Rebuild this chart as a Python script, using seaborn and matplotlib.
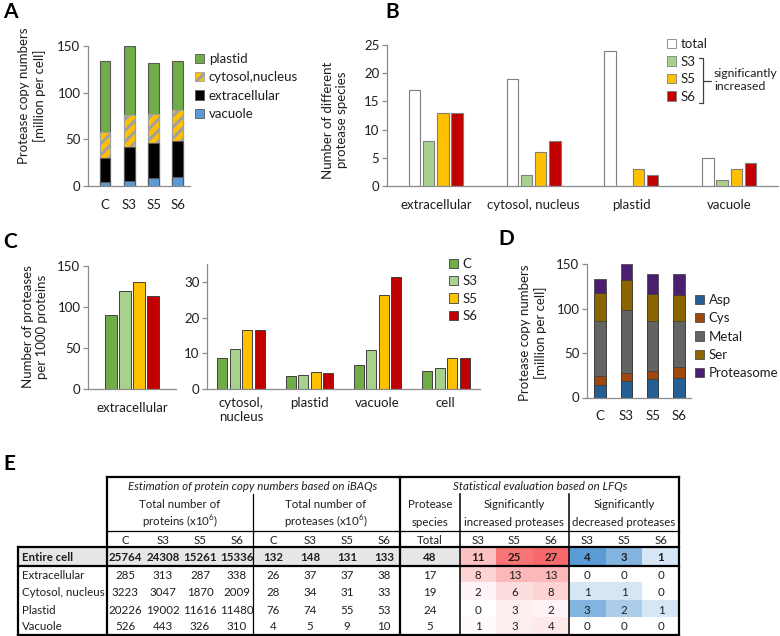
import numpy as np
import pandas as pd
import matplotlib
matplotlib.use("Agg")
import matplotlib.pyplot as plt
from matplotlib.patches import Patch, Rectangle
from matplotlib.colors import LinearSegmentedColormap
import seaborn as sns

samples = ["C", "S3", "S5", "S6"]
compartments = ["extracellular", "cytosol, nucleus", "plastid", "vacuole"]

# A: protease copy numbers [million per cell]
a_vacuole = [4, 5, 9, 10]
a_extracellular = [26, 37, 37, 38]
a_cytosol = [28, 34, 31, 33]
a_plastid = [76, 74, 55, 53]

# B: number of protease species
b_series = ["total", "S3", "S5", "S6"]
b_extracellular = [17, 8, 13, 13]
b_cytosol = [19, 2, 6, 8]
b_plastid = [24, 0, 3, 2]
b_vacuole = [5, 1, 3, 4]

# C: proteases per 1000 proteins
c_extracellular = [90, 119, 130, 113]
c_groups = ["cytosol,\nnucleus", "plastid", "vacuole", "cell"]
c_cytosol = [8.6, 11.1, 16.5, 16.4]
c_plastid = [3.7, 3.8, 4.7, 4.6]
c_vacuole = [6.7, 10.9, 26.4, 31.4]
c_cell = [5.1, 6.0, 8.6, 8.7]

# D: protease classes [million per cell]
d_classes = ["Asp", "Cys", "Metal", "Ser", "Proteasome"]
d_asp = [14, 18, 21, 22]
d_cys = [10, 10, 9, 12]
d_metal = [62, 70, 56, 52]
d_ser = [31, 34, 30, 29]
d_proteasome = [16, 18, 23, 24]

# E: table
e_rows = ["Entire cell", "Extracellular", "Cytosol, nucleus", "Plastid", "Vacuole"]
e_proteins = [[25764, 24308, 15261, 15336], [285, 313, 287, 338], [3223, 3047, 1870, 2009],
              [20226, 19002, 11616, 11480], [526, 443, 326, 310]]
e_proteases = [[132, 148, 131, 133], [26, 37, 37, 38], [28, 34, 31, 33], [76, 74, 55, 53], [4, 5, 9, 10]]
e_species = [48, 17, 19, 24, 5]
e_increased = [[11, 25, 27], [8, 13, 13], [2, 6, 8], [0, 3, 2], [1, 3, 4]]
e_decreased = [[4, 3, 1], [0, 0, 0], [1, 1, 0], [3, 2, 1], [0, 0, 0]]

sns.set_style("white")
plt.rcParams["font.family"] = ["Lato", "DejaVu Sans"]
plt.rcParams["mathtext.fontset"] = "custom"
plt.rcParams["mathtext.rm"] = "Lato"
plt.rcParams["hatch.linewidth"] = 2.2

GREEN, LGREEN, ORANGE, RED = "#70AD47", "#A9D18E", "#FFC000", "#C00000"
AX = "#8C8C8C"
TXT = "#1E1E1E"
FS = 9.5

W, H = 780, 636
fig = plt.figure(figsize=(7.8, 6.36), dpi=100)


def box(l, t, r, b):
    return [l / W, 1 - b / H, (r - l) / W, (b - t) / H]


def fx(x):
    return x / W


def fy(y):
    return 1 - y / H


def style(ax, ylim, yticks, xlim):
    ax.set_ylim(*ylim)
    ax.set_yticks(yticks)
    ax.set_xlim(*xlim)
    ax.set_xlabel("")
    ax.set_ylabel("")
    sns.despine(ax=ax)
    for s in ("left", "bottom"):
        ax.spines[s].set_color(AX)
        ax.spines[s].set_linewidth(0.9)
    ax.tick_params(axis="y", left=True, length=3.5, width=0.9, color=AX, pad=2,
                   labelsize=FS, labelcolor=TXT)
    ax.tick_params(axis="x", bottom=False, length=0, pad=9, labelsize=FS, labelcolor=TXT)


def legend(ax, handles, x, y, spacing=0.48):
    ax.legend(handles=handles, loc="upper left", bbox_to_anchor=(fx(x), fy(y)),
              bbox_transform=fig.transFigure, frameon=False, handlelength=0.7,
              handleheight=0.7, handletextpad=0.35, labelspacing=spacing, borderpad=0,
              borderaxespad=0, fontsize=FS, labelcolor=TXT)


# ---- A ----
axA = fig.add_axes(box(88, 46, 190, 186))
layersA = [("vacuole", a_vacuole, "#5B9BD5", None),
           ("extracellular", a_extracellular, "black", None),
           ("cytosol,nucleus", a_cytosol, ORANGE, "///"),
           ("plastid", a_plastid, GREEN, None)]
topsA = np.cumsum([l[1] for l in layersA], axis=0)
for (name, vals, col, hatch), top in reversed(list(zip(layersA, topsA))):
    sns.barplot(x=samples, y=top, color=col, width=0.45, saturation=1, hatch=hatch,
                edgecolor="#A0A0A0" if hatch else "#595959", linewidth=0.8, ax=axA)
style(axA, (0, 150), [0, 50, 100, 150], (-0.7, 3.5))
legend(axA, [Patch(facecolor=c, edgecolor="#A0A0A0" if h else "#595959", hatch=h, label=n, linewidth=0.6)
             for n, v, c, h in reversed(layersA)], 195, 53)
fig.text(fx(32), fy(96), "Protease copy numbers\n[million per cell]", rotation=90,
         ha="center", va="center", fontsize=FS, color=TXT)

# ---- B ----
axB = fig.add_axes(box(387, 45, 778, 186))
dfB = pd.DataFrame({"compartment": np.repeat(compartments, 4),
                    "series": b_series * 4,
                    "value": np.concatenate([b_extracellular, b_cytosol, b_plastid, b_vacuole])})
colsB = ["white", LGREEN, ORANGE, RED]
sns.barplot(dfB, x="compartment", y="value", hue="series", hue_order=b_series, palette=colsB,
            width=0.58, gap=0.2, saturation=1, edgecolor="#7F7F7F", linewidth=0.8,
            legend=False, ax=axB)
style(axB, (0, 25), range(0, 26, 5), (-0.5, 3.5))
legend(axB, [Patch(facecolor=c, edgecolor="#7F7F7F", label=n, linewidth=0.6)
             for n, c in zip(b_series, colsB)], 667, 38, spacing=0.42)
fig.text(fx(335), fy(120), "Number of different\nprotease species", rotation=90,
         ha="center", va="center", fontsize=FS, color=TXT)
bx = [fx(699), fx(703), fx(703), fx(699)]
by = [fy(58), fy(58), fy(103), fy(103)]
fig.add_artist(plt.Line2D(bx, by, color="#404040", lw=0.9))
fig.add_artist(plt.Line2D([fx(703), fx(711)], [fy(80.5), fy(80.5)], color="#404040", lw=0.9))
fig.text(fx(714), fy(80), "significantly\nincreased", ha="left", va="center",
         fontsize=8.8, color=TXT, linespacing=1.25)

# ---- C ----
colsC = [GREEN, LGREEN, ORANGE, RED]
axC1 = fig.add_axes(box(88, 266, 176, 389))
dfC1 = pd.DataFrame({"compartment": ["extracellular"] * 4, "sample": samples, "value": c_extracellular})
sns.barplot(dfC1, x="compartment", y="value", hue="sample", hue_order=samples, palette=colsC,
            width=0.6, gap=0.18, saturation=1, edgecolor="#404040", linewidth=0.7,
            legend=False, ax=axC1)
style(axC1, (0, 150), [0, 50, 100, 150], (-0.47, 0.47))

axC2 = fig.add_axes(box(207, 264, 480, 389))
dfC2 = pd.DataFrame({"compartment": np.repeat(c_groups, 4),
                     "sample": samples * 4,
                     "value": np.concatenate([c_cytosol, c_plastid, c_vacuole, c_cell])})
sns.barplot(dfC2, x="compartment", y="value", hue="sample", hue_order=samples, palette=colsC,
            width=0.73, gap=0.2, saturation=1, edgecolor="#404040", linewidth=0.7,
            legend=False, ax=axC2)
style(axC2, (0, 35), [0, 10, 20, 30], (-0.5, 3.5))
axC2.tick_params(axis="x", pad=6)
for t in axC2.get_xticklabels():
    t.set_verticalalignment("top")
legend(axC2, [Patch(facecolor=c, edgecolor="#404040", label=n, linewidth=0.6)
              for n, c in zip(samples, colsC)], 449, 258, spacing=0.4)
fig.text(fx(35), fy(327), "Number of proteases\nper 1000 proteins", rotation=90,
         ha="center", va="center", fontsize=FS, color=TXT)

# ---- D ----
axD = fig.add_axes(box(587, 264, 691, 397.5))
colsD = ["#255E91", "#9E480E", "#636363", "#8A6500", "#4B1F6F"]
valsD = [d_asp, d_cys, d_metal, d_ser, d_proteasome]
topsD = np.cumsum(valsD, axis=0)
for col, top in reversed(list(zip(colsD, topsD))):
    sns.barplot(x=samples, y=top, color=col, width=0.44, saturation=1,
                edgecolor="#3A3A3A", linewidth=0.5, ax=axD)
style(axD, (0, 150), [0, 50, 100, 150], (-0.5, 3.46))
legend(axD, [Patch(facecolor=c, edgecolor="#3A3A3A", label=n, linewidth=0.5)
             for n, c in zip(d_classes, colsD)], 695, 294)
fig.text(fx(533), fy(333), "Protease copy numbers\n[million per cell]", rotation=90,
         ha="center", va="center", fontsize=FS, color=TXT)

# ---- panel letters ----
for s, x, y in [("A", 3, 2), ("B", 385, 2), ("C", 3, 232), ("D", 498, 229), ("E", 3, 454)]:
    fig.text(fx(x), fy(y), s, fontsize=15, fontweight="bold", ha="left", va="top", color="black")

# ---- E: table ----
reds = LinearSegmentedColormap.from_list("reds", ["#FFFFFF", "#F8696B"])
blues = LinearSegmentedColormap.from_list("blues", ["#FFFFFF", "#5A9BD5"])
axR = fig.add_axes(box(460, 547, 569, 635))
sns.heatmap(np.array(e_increased), cmap=reds, vmin=0, vmax=27, cbar=False,
            xticklabels=False, yticklabels=False, ax=axR)
axBl = fig.add_axes(box(569, 547, 679, 635))
sns.heatmap(np.array(e_decreased), cmap=blues, vmin=0, vmax=4, cbar=False,
            xticklabels=False, yticklabels=False, ax=axBl)

T = fig.add_axes([0, 0, 1, 1])
T.set_xlim(0, W)
T.set_ylim(H, 0)
T.axis("off")
T.set_zorder(10)
T.add_patch(Rectangle((18, 547), 442, 19, facecolor="#E7E6E6", edgecolor="none", zorder=0))

thick, mid, thin = 1.6, 1.1, 0.9
segs = [((107, 477), (679, 477), thick), ((679, 477), (679, 635), thick),
        ((18, 635), (679, 635), thick), ((107, 477), (107, 635), thick),
        ((18, 547), (18, 635), thick), ((400, 477), (400, 635), thick),
        ((18, 547), (679, 547), thick), ((18, 566), (679, 566), thick),
        ((253, 494), (253, 635), thin), ((460, 494), (460, 635), mid),
        ((569, 494), (569, 635), mid), ((107, 531), (679, 531), thin)]
for (x0, y0), (x1, y1), lw in segs:
    T.plot([x0, x1], [y0, y1], color="black", lw=lw, solid_capstyle="projecting")

TF = 8.3
T.text(253, 487, "Estimation of protein copy numbers based on iBAQs", ha="center", va="center",
       fontsize=TF, style="italic", color=TXT)
T.text(540, 487, "Statistical evaluation based on LFQs", ha="center", va="center",
       fontsize=TF, style="italic", color=TXT)
heads = [(180, "Total number of", "proteins (x10$^6$)"), (326, "Total number of", "proteases (x10$^6$)"),
         (430, "Protease", "species"), (514, "Significantly", "increased proteases"),
         (624, "Significantly", "decreased proteases")]
for x, l1, l2 in heads:
    T.text(x, 504, l1, ha="center", va="center", fontsize=TF, color=TXT)
    T.text(x, 522, l2, ha="center", va="center", fontsize=TF, color=TXT)

xp = [125, 163, 200, 237]
xq = [273, 310, 347, 384]
xs = [430]
xi = [478, 514.5, 551]
xd = [587, 624, 661]
for x, s in zip(xp + xq + xs + xi + xd, samples + samples + ["Total"] + samples[1:] + samples[1:]):
    T.text(x, 541, s, ha="center", va="center", fontsize=TF, color=TXT)

row_y = [557.5, 575.5, 592.5, 610, 627]
for i, y in enumerate(row_y):
    w = "bold" if i == 0 else "normal"
    T.text(22, y, e_rows[i], ha="left", va="center", fontsize=TF, fontweight=w, color=TXT)
    vals = e_proteins[i] + e_proteases[i] + [e_species[i]] + e_increased[i] + e_decreased[i]
    for x, v in zip(xp + xq + xs + xi + xd, vals):
        T.text(x, y, str(v), ha="center", va="center", fontsize=TF, fontweight=w, color=TXT)

fig.savefig("out.png", dpi=100)
